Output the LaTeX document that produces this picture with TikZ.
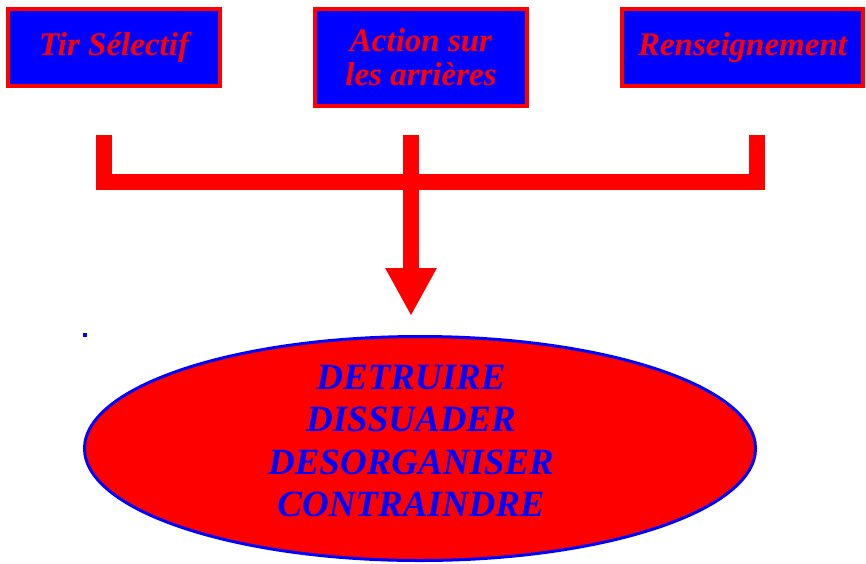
\documentclass[tikz,border=0pt]{standalone}
\usepackage{fontspec}
\setmainfont{Liberation Serif}
\usetikzlibrary{arrows.meta,shapes.geometric}

\begin{document}
\begin{tikzpicture}[x=1pt, y=-1pt, line join=miter,
    boite/.style={draw=red, line width=4pt, fill=blue, text=red, align=center, inner sep=0pt,
        font=\fontsize{33}{34}\selectfont\bfseries\itshape},
    effet/.style={ellipse, draw=blue, line width=3pt, fill=red, inner sep=0pt},
    verbe/.style={text=blue, align=center, font=\fontsize{37}{42.5}\selectfont\bfseries\itshape},
    barre/.style={red, line width=16pt}]
    \useasboundingbox (0,0) rectangle (866,563);

    % 上の三つの箱
    \node[boite, minimum width=212pt, minimum height=77pt] (tir) at (114,47.5) {Tir Sélectif};
    \node[boite, minimum width=212pt, minimum height=97pt] (action) at (421,57.5) {Action sur\\les arrières};
    \node[boite, minimum width=241pt, minimum height=77pt] (rens) at (742.5,47.5) {Renseignement};

    % 括弧の座標
    \coordinate (g) at (104,135);
    \coordinate (m) at (411,135);
    \coordinate (d) at (757,135);
    \coordinate (bout) at (411,316);

    % 赤い括弧と下向きの矢印
    \draw[barre] (g) -- (104,181.5) -- (757,181.5) -- (d);
    \draw[barre, -{Triangle[width=48pt, length=48pt]}] (m) -- (bout);

    % 小さな青い点
    \fill[blue] (83,333) rectangle (87,337);

    % 楕円と動詞
    \node[effet, minimum width=671pt, minimum height=224pt] (ovale) at (420,448.5) {};
    \node[verbe] (verbes) at (411,441) {DETRUIRE\\DISSUADER\\DESORGANISER\\CONTRAINDRE};
\end{tikzpicture}
\end{document}
